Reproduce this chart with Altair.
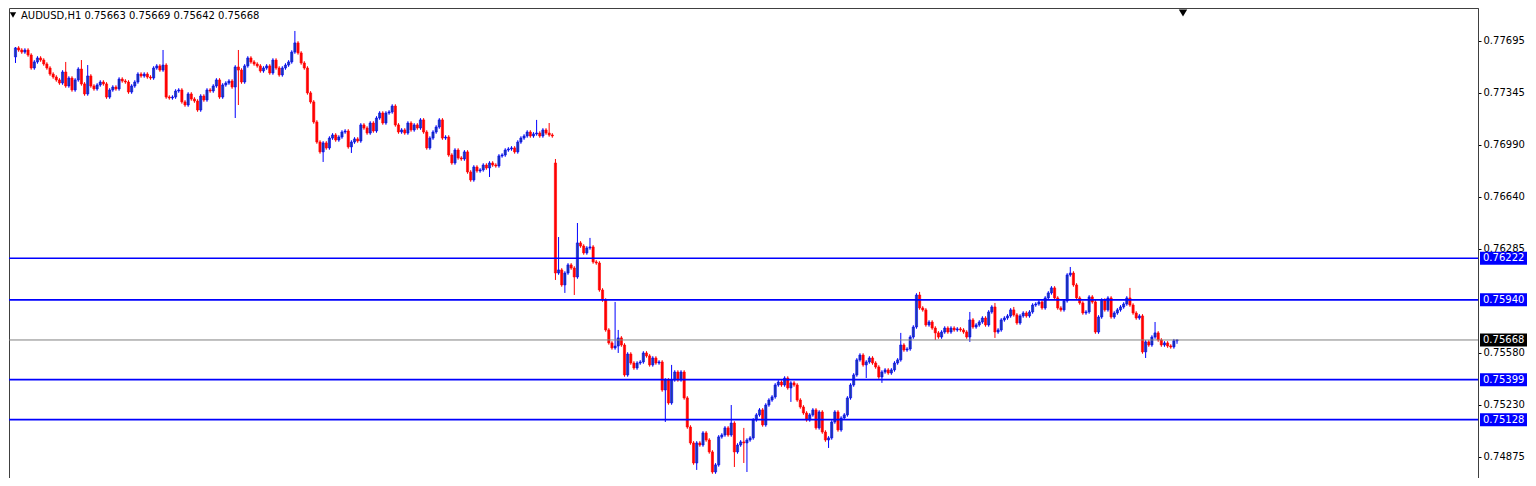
import altair as alt
import pandas as pd

# ---- data (AUDUSD, H1 candles) ----
first_open = 0.77587
closes = [
    0.77648, 0.77634, 0.77620, 0.77634, 0.77600, 0.77512, 0.77553, 0.77580, 0.77566, 0.77539,
    0.77512, 0.77471, 0.77451, 0.77431, 0.77410, 0.77485, 0.77390, 0.77444, 0.77363, 0.77431,
    0.77505, 0.77404, 0.77336, 0.77458, 0.77390, 0.77370, 0.77397, 0.77417, 0.77404, 0.77315,
    0.77363, 0.77383, 0.77370, 0.77437, 0.77424, 0.77417, 0.77349, 0.77390, 0.77417, 0.77471,
    0.77458, 0.77471, 0.77451, 0.77444, 0.77512, 0.77526, 0.77498, 0.77532, 0.77315, 0.77309,
    0.77315, 0.77356, 0.77363, 0.77282, 0.77261, 0.77336, 0.77302, 0.77288, 0.77227, 0.77322,
    0.77295, 0.77363, 0.77356, 0.77390, 0.77431, 0.77315, 0.77397, 0.77410, 0.77424, 0.77383,
    0.77519, 0.77498, 0.77417, 0.77526, 0.77580, 0.77553, 0.77539, 0.77526, 0.77492, 0.77512,
    0.77526, 0.77478, 0.77566, 0.77512, 0.77465, 0.77512, 0.77532, 0.77553, 0.77620, 0.77682,
    0.77614, 0.77546, 0.77512, 0.77343, 0.77282, 0.77146, 0.77010, 0.76943, 0.77004, 0.76970,
    0.77037, 0.77058, 0.77024, 0.77044, 0.77078, 0.77085, 0.76977, 0.77010, 0.77031, 0.77017,
    0.77126, 0.77105, 0.77071, 0.77139, 0.77085, 0.77173, 0.77207, 0.77139, 0.77207, 0.77214,
    0.77254, 0.77126, 0.77078, 0.77092, 0.77071, 0.77139, 0.77092, 0.77126, 0.77105, 0.77160,
    0.77078, 0.76970, 0.77037, 0.77078, 0.77112, 0.77160, 0.77037, 0.77044, 0.76922, 0.76868,
    0.76956, 0.76902, 0.76895, 0.76943, 0.76807, 0.76753, 0.76841, 0.76814, 0.76821, 0.76854,
    0.76834, 0.76868, 0.76854, 0.76848, 0.76916, 0.76922, 0.76956, 0.76963, 0.76970, 0.76943,
    0.77010, 0.77037, 0.77051, 0.77078, 0.77051, 0.77065, 0.77071, 0.77051, 0.77092, 0.77071,
    0.77058, 0.77051, 0.76122, 0.76143, 0.76041, 0.76122, 0.76177, 0.76156, 0.76095, 0.76326,
    0.76305, 0.76258, 0.76292, 0.76299, 0.76197, 0.76190, 0.76007, 0.75939, 0.75736, 0.75648,
    0.75614, 0.75627, 0.75682, 0.75634, 0.75431, 0.75573, 0.75512, 0.75478, 0.75512, 0.75519,
    0.75580, 0.75560, 0.75499, 0.75546, 0.75512, 0.75519, 0.75329, 0.75397, 0.75241, 0.75397,
    0.75451, 0.75397, 0.75451, 0.75275, 0.75078, 0.74970, 0.74834, 0.74970, 0.74956, 0.75038,
    0.74990, 0.74909, 0.74773, 0.74821, 0.75011, 0.75024, 0.75072, 0.75024, 0.75105, 0.74909,
    0.74956, 0.74977, 0.74970, 0.74990, 0.75004, 0.75126, 0.75160, 0.75194, 0.75092, 0.75227,
    0.75261, 0.75282, 0.75363, 0.75383, 0.75363, 0.75410, 0.75343, 0.75377, 0.75363, 0.75261,
    0.75214, 0.75173, 0.75126, 0.75160, 0.75194, 0.75072, 0.75180, 0.75044, 0.74990, 0.75004,
    0.75112, 0.75180, 0.75058, 0.75139, 0.75160, 0.75275, 0.75363, 0.75431, 0.75533, 0.75566,
    0.75499, 0.75519, 0.75546, 0.75512, 0.75485, 0.75417, 0.75451, 0.75465, 0.75444, 0.75465,
    0.75512, 0.75533, 0.75634, 0.75600, 0.75607, 0.75688, 0.75756, 0.75973, 0.75885, 0.75872,
    0.75770, 0.75790, 0.75749, 0.75716, 0.75688, 0.75722, 0.75749, 0.75722, 0.75749, 0.75736,
    0.75743, 0.75736, 0.75722, 0.75688, 0.75804, 0.75756, 0.75770, 0.75790, 0.75817, 0.75770,
    0.75858, 0.75892, 0.75722, 0.75736, 0.75804, 0.75817, 0.75831, 0.75872, 0.75838, 0.75783,
    0.75831, 0.75851, 0.75831, 0.75858, 0.75905, 0.75912, 0.75926, 0.75885, 0.75953, 0.75987,
    0.76021, 0.75953, 0.75885, 0.75872, 0.75933, 0.76109, 0.76122, 0.76041, 0.75953, 0.75919,
    0.75851, 0.75858, 0.75960, 0.75926, 0.75722, 0.75824, 0.75939, 0.75872, 0.75953, 0.75824,
    0.75851, 0.75872, 0.75892, 0.75912, 0.75953, 0.75905, 0.75851, 0.75817, 0.75831, 0.75587,
    0.75655, 0.75634, 0.75688, 0.75716, 0.75668, 0.75634, 0.75648, 0.75627, 0.75621, 0.75663,
    0.75668,
]
# opens that differ from the previous close (weekend gap)
gap_opens = {172: 0.76868}
# candles whose high / low stick out clearly
extremes = {
    0: (0.77654, 0.77546), 16: (0.77553, None), 21: (0.77566, None), 23: (0.77532, None),
    47: (0.77634, None), 70: (None, 0.77173), 71: (0.77634, 0.77261), 89: (0.77763, None),
    98: (None, 0.76875), 107: (None, 0.76936), 151: (None, 0.76773), 166: (0.77160, None),
    170: (0.77139, None), 172: (0.76895, 0.76075), 173: (0.76366, None), 175: (None, 0.75987),
    178: (None, 0.75973), 179: (0.76461, None), 183: (0.76360, None), 191: (0.75926, None),
    192: (0.75736, 0.75580), 207: (None, 0.75112), 209: (0.75499, None), 217: (None, 0.74787),
    228: (0.75227, None), 229: (None, 0.74807), 232: (0.75072, 0.74834), 233: (None, 0.74773),
    247: (None, 0.75248), 259: (None, 0.74936), 271: (None, 0.75410), 276: (None, 0.75377),
    282: (0.75716, None), 288: (0.75994, None), 293: (None, 0.75668), 304: (0.75858, 0.75655),
    312: (0.75919, 0.75682), 318: (0.75892, None), 336: (0.76163, None), 355: (0.76021, None),
    360: (None, 0.75546), 363: (0.75790, None), 370: (0.75669, 0.75642),
}
typical_wick = 0.00012

levels = [0.76222, 0.75940, 0.75399, 0.75128]
bid = [0.75668]
axis_ticks = [0.77695, 0.77345, 0.76990, 0.76640, 0.76285, 0.75580, 0.75230, 0.74875]
header = "AUDUSD,H1  0.75663 0.75669 0.75642 0.75668"

# ---- build table ----
rows = []
prev = first_open
for i, c in enumerate(closes):
    o = gap_opens.get(i, prev)
    hi, lo = extremes.get(i, (None, None))
    if hi is None:
        hi = max(o, c) + typical_wick
    if lo is None:
        lo = min(o, c) - typical_wick
    hi = max(hi, o, c)
    lo = min(lo, o, c)
    top, bot = max(o, c), min(o, c)
    if top - bot < 0.00007:
        mid = (top + bot) / 2
        top, bot = mid + 0.000035, mid - 0.000035
    rows.append(dict(i=i, open=o, close=c, high=hi, low=lo, btop=top, bbot=bot,
                     dir="up" if c > o else "down"))
    prev = c
df = pd.DataFrame(rows)

W, H = 1469, 470
YMIN, YMAX = 0.747323, 0.779187
x_scale = alt.Scale(domain=[-0.4746, 464.28], nice=False, zero=False)
y_scale = alt.Scale(domain=[YMIN, YMAX], nice=False, zero=False)
dir_dom = ["up", "down"]

base = alt.Chart(df)
wicks = base.mark_rule(strokeWidth=1).encode(
    x=alt.X("i:Q", scale=x_scale, axis=None),
    y=alt.Y("low:Q", scale=y_scale,
            axis=alt.Axis(orient="right", values=axis_ticks, format=".5f", title=None, grid=False,
                          tickSize=3, labelPadding=2, domainColor="#404040", tickColor="#000000",
                          labelColor="#000000", labelFont="DejaVu Sans", labelFontSize=10)),
    y2="high:Q",
    color=alt.Color("dir:N", scale=alt.Scale(domain=dir_dom, range=["#0000FF", "#FF0000"]), legend=None),
)
bodies = base.mark_bar(size=2.2, strokeWidth=0.6).encode(
    x=alt.X("i:Q", scale=x_scale),
    y=alt.Y("bbot:Q", scale=y_scale),
    y2="btop:Q",
    fill=alt.Fill("dir:N", scale=alt.Scale(domain=dir_dom, range=["#1B3CA8", "#FF0000"]), legend=None),
    stroke=alt.Stroke("dir:N", scale=alt.Scale(domain=dir_dom, range=["#0000FF", "#FF0000"]), legend=None),
)

half = 6.5 / (H / (YMAX - YMIN))
lvl_df = pd.DataFrame({"price": levels})
bid_df = pd.DataFrame({"price": bid})


def price_line(d, colour, width, box_colour):
    line = alt.Chart(d).mark_rule(color=colour, strokeWidth=width).encode(
        y=alt.Y("price:Q", scale=y_scale))
    box = alt.Chart(d).transform_calculate(
        ytop=f"datum.price + {half}", ybot=f"datum.price - {half}"
    ).mark_rect(color=box_colour).encode(
        x=alt.value(W + 2), x2=alt.value(W + 49),
        y=alt.Y("ytop:Q", scale=y_scale), y2="ybot:Q")
    txt = alt.Chart(d).mark_text(align="left", baseline="middle", font="DejaVu Sans",
                                 fontSize=10, color="#FFFFFF").encode(
        x=alt.value(W + 5), y=alt.Y("price:Q", scale=y_scale),
        text=alt.Text("price:Q", format=".5f"))
    return [line, box, txt]


hdr = pd.DataFrame({"t": [header]})
head_text = alt.Chart(hdr).mark_text(align="left", baseline="middle", font="DejaVu Sans",
                                      fontSize=10, color="#000000").encode(
    x=alt.value(12), y=alt.value(8), text="t:N")
head_tri = alt.Chart(hdr).mark_point(shape="triangle-down", filled=True, size=40,
                                     color="#000000", opacity=1).encode(
    x=alt.value(4), y=alt.value(7))
shift_tri = alt.Chart(hdr).mark_point(shape="triangle-down", filled=True, size=70,
                                      color="#000000", opacity=1).encode(
    x=alt.value(1174), y=alt.value(5))

layers = [wicks, bodies]
layers += price_line(lvl_df, "#0000FF", 1.6, "#0000FF")
layers += price_line(bid_df, "#808080", 1.0, "#000000")
layers += [head_text, head_tri, shift_tri]

chart = alt.layer(*layers).properties(
    width=W, height=H, padding=0, background="#FFFFFF"
).configure_view(stroke="#404040", strokeWidth=1)

chart.save("out.html", embed_options={"renderer": "svg", "actions": False})
